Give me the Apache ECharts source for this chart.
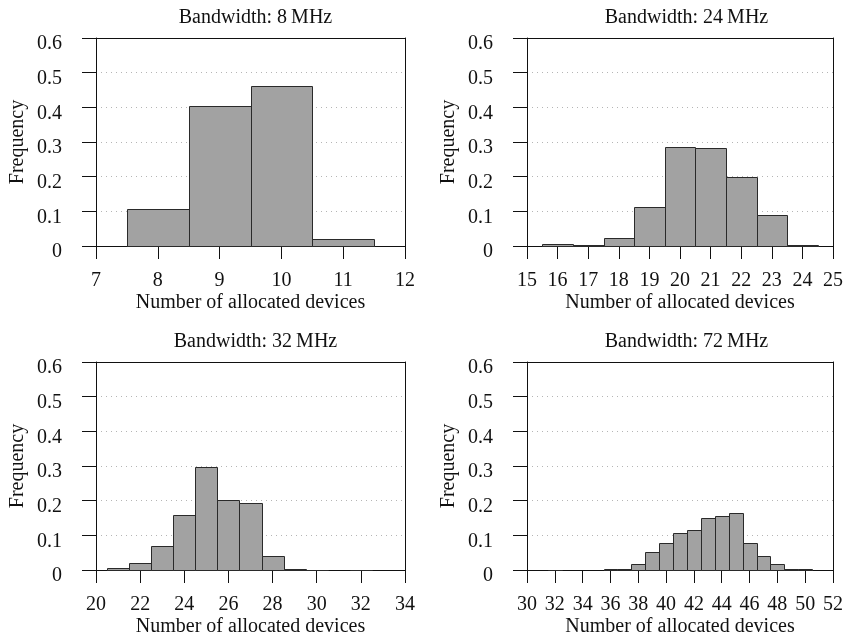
<!DOCTYPE html>
<html>
<head>
<meta charset="utf-8">
<script src="https://cdn.jsdelivr.net/npm/echarts@6/dist/echarts.min.js"></script>
<style>html,body{margin:0;padding:0;background:#fff}#c{width:846px;height:642px}</style>
</head>
<body>
<div id="c"></div>
<script>
// ---- data ----
const titles = ['Bandwidth: 8\u2009MHz', 'Bandwidth: 24\u2009MHz', 'Bandwidth: 32\u2009MHz', 'Bandwidth: 72\u2009MHz'];
const xName = 'Number of allocated devices';
const yName = 'Frequency';
const yTickLabels = ['0', '0.1', '0.2', '0.3', '0.4', '0.5', '0.6'];

const bw8Devices = [8, 9, 10, 11];
const bw8Freq = [0.108, 0.403, 0.461, 0.021];

const bw24Devices = [16, 17, 18, 19, 20, 21, 22, 23, 24];
const bw24Freq = [0.006, 0.002, 0.023, 0.112, 0.285, 0.283, 0.199, 0.090, 0.002];

const bw32Devices = [21, 22, 23, 24, 25, 26, 27, 28, 29, 30, 31, 32];
const bw32Freq = [0.005, 0.021, 0.070, 0.159, 0.298, 0.201, 0.193, 0.041, 0.002, 0.001, 0, 0.001];

const bw72Devices = [32, 33, 34, 35, 36, 37, 38, 39, 40, 41, 42, 43, 44, 45, 46, 47, 48, 49, 50];
const bw72Freq = [0.001, 0, 0, 0, 0.002, 0.004, 0.017, 0.051, 0.079, 0.106, 0.116, 0.151, 0.156, 0.164, 0.079, 0.041, 0.017, 0.002, 0.002];

const xTicks8 = [7, 8, 9, 10, 11, 12];
const xTicks24 = [15, 16, 17, 18, 19, 20, 21, 22, 23, 24, 25];
const xTicks32 = [20, 22, 24, 26, 28, 30, 32, 34];
const xTicks72 = [30, 32, 34, 36, 38, 40, 42, 44, 46, 48, 50, 52];

// ---- layout ----
const FONT = '"Liberation Serif", "DejaVu Serif", serif';
const INK = '#111';
const panels = [
  { devices: bw8Devices, freq: bw8Freq, ticks: xTicks8, left: 96, top: 38 },
  { devices: bw24Devices, freq: bw24Freq, ticks: xTicks24, left: 527, top: 38 },
  { devices: bw32Devices, freq: bw32Freq, ticks: xTicks32, left: 96, top: 362 },
  { devices: bw72Devices, freq: bw72Freq, ticks: xTicks72, left: 527, top: 362 }
];
const GW = 309, GH = 208;

const xMain = panels.map((p, i) => ({
  type: 'value', gridIndex: i, position: 'bottom',
  min: p.ticks[0], max: p.ticks[p.ticks.length - 1], interval: p.ticks[1] - p.ticks[0],
  name: xName, nameLocation: 'middle', nameGap: 47,
  nameTextStyle: { fontFamily: FONT, fontSize: 20, color: INK },
  axisLine: { show: true, onZero: false, lineStyle: { color: INK, width: 1 } },
  axisTick: { show: true, length: 13, lineStyle: { color: INK, width: 1 } },
  axisLabel: { show: true, margin: 25, fontFamily: FONT, fontSize: 20, color: INK, showMinLabel: true, showMaxLabel: true },
  splitLine: { show: false }
}));
const xFrame = panels.map((p, i) => ({
  type: 'value', gridIndex: i, position: 'top',
  min: p.ticks[0], max: p.ticks[p.ticks.length - 1],
  axisLine: { show: true, onZero: false, lineStyle: { color: INK, width: 1 } },
  axisTick: { show: false }, axisLabel: { show: false }, splitLine: { show: false }
}));
const yMain = panels.map((p, i) => ({
  type: 'value', gridIndex: i, position: 'left',
  min: 0, max: 0.6, interval: 0.1,
  name: yName, nameLocation: 'middle', nameGap: 68, nameRotate: 90,
  nameTextStyle: { fontFamily: FONT, fontSize: 20, color: INK },
  axisLine: { show: true, onZero: false, lineStyle: { color: INK, width: 1 } },
  axisTick: { show: true, length: 14, lineStyle: { color: INK, width: 1 } },
  axisLabel: {
    show: true, margin: 34, fontFamily: FONT, fontSize: 20, color: INK,
    formatter: v => '{t|' + yTickLabels[Math.round(v * 10)] + '}',
    rich: { t: { fontFamily: FONT, fontSize: 20, color: INK, padding: [12, 0, 0, 0] } }
  },
  splitLine: { show: true, lineStyle: { color: '#b5b5b5', width: 1, type: [1, 4] } }
}));
const yFrame = panels.map((p, i) => ({
  type: 'value', gridIndex: i, position: 'right',
  min: 0, max: 0.6,
  axisLine: { show: true, onZero: false, lineStyle: { color: INK, width: 1 } },
  axisTick: { show: false }, axisLabel: { show: false }, splitLine: { show: false }
}));

const option = {
  animation: false,
  backgroundColor: '#fff',
  textStyle: { fontFamily: FONT },
  title: panels.map((p, i) => ({
    text: titles[i],
    left: p.left + GW / 2,
    top: p.top - 35,
    textAlign: 'center',
    textStyle: { fontFamily: FONT, fontSize: 20, fontWeight: 'normal', color: INK }
  })),
  grid: panels.map(p => ({ left: p.left, top: p.top, width: GW, height: GH, show: false })),
  xAxis: xMain.concat(xFrame),
  yAxis: yMain.concat(yFrame),
  series: panels.map((p, i) => ({
    type: 'custom',
    xAxisIndex: i, yAxisIndex: i,
    data: p.devices.map((d, k) => [d, p.freq[k]]),
    renderItem: (params, api) => {
      const x = api.value(0), y = api.value(1);
      if (!(y > 0)) return null;
      const a = api.coord([x - 0.5, y]);
      const b = api.coord([x + 0.5, 0]);
      const x0 = Math.round(a[0]) + 0.5, x1 = Math.round(b[0]) + 0.5;
      const y0 = Math.round(a[1]) + 0.5, y1 = Math.round(b[1]) + 0.5;
      return {
        type: 'rect',
        shape: { x: x0, y: y0, width: x1 - x0, height: Math.max(y1 - y0, 0) },
        style: { fill: '#a2a2a2', stroke: '#2a2a2a', lineWidth: 1 }
      };
    }
  }))
};

const chart = echarts.init(document.getElementById('c'), null, { renderer: 'canvas' });
chart.setOption(option);
</script>
</body>
</html>
